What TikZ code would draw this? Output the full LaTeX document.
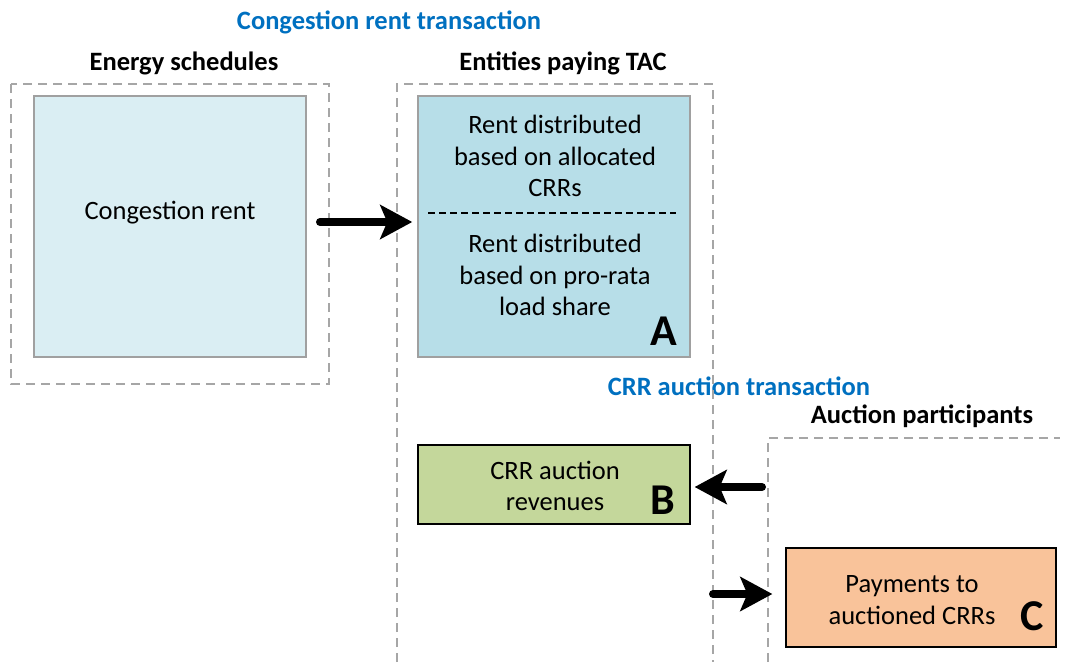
\documentclass[tikz,border=0pt]{standalone}
\usepackage{fontspec}
\setmainfont{Carlito}
\usetikzlibrary{arrows.meta}
\definecolor{dashgray}{HTML}{A6A6A6}
\definecolor{boxgray}{HTML}{A0A0A0}
\definecolor{lightblue}{HTML}{DAEEF3}
\definecolor{midblue}{HTML}{B7DEE8}
\definecolor{lightgreen}{HTML}{C4D79B}
\definecolor{peach}{HTML}{F9C39A}
\definecolor{titleblue}{HTML}{0070C0}
\tikzset{
  region/.style={draw=dashgray, line width=1.5pt, dash pattern=on 9pt off 6pt},
  bigbox/.style={draw=boxgray, line width=1.5pt, inner sep=0pt, minimum width=272pt, minimum height=261pt},
  smallbox/.style={draw=black, line width=1.3pt, inner sep=0pt},
  txt/.style={font=\fontsize{26.5}{31.5}\selectfont, align=center, inner sep=0pt},
  hdr/.style={font=\fontsize{26.5}{31.5}\selectfont\bfseries, inner sep=0pt},
  ttl/.style={font=\fontsize{26.5}{31.5}\selectfont\bfseries, text=titleblue, inner sep=0pt},
  letter/.style={font=\fontsize{44}{44}\selectfont\bfseries, inner sep=0pt},
  flow/.style={line width=8pt, line cap=round, -{Stealth[length=32pt,width=34pt,inset=7pt]}}
}
\begin{document}
\begin{tikzpicture}[x=1pt,y=-1pt]
\useasboundingbox (0,0) rectangle (1065,662);
% titles
\node[ttl] (t1) at (389,22) {Congestion rent transaction};
\node[hdr] (h1) at (184,63) {Energy schedules};
\node[hdr] (h2) at (563,63) {Entities paying TAC};
\node[ttl] (t2) at (739,386) {CRR auction transaction};
\node[hdr] (h3) at (922,416) {Auction participants};
% dashed regions
\draw[region] (11,84) rectangle (329,384);
\draw[region] (397,662) -- (397,84) -- (713,84) -- (713,662);
\draw[region] (768,662) -- (768,438) -- (1060,438);
% boxes
\node[bigbox, fill=lightblue] (cr) at (170,226.5) {};
\node[txt] (crt) at (170,213) {Congestion rent};
\node[bigbox, fill=midblue] (a) at (554,226.5) {};
\node[txt] (a1) at (555,156) {Rent distributed\\based on allocated\\CRRs};
\node[txt] (a2) at (555,275) {Rent distributed\\based on pro-rata\\load share};
\draw[line width=1.3pt, dash pattern=on 7pt off 4pt] (428,213) -- (676,213);
\node[letter] (la) at (664,331) {A};
\node[smallbox, fill=lightgreen, minimum width=272pt, minimum height=79pt] (b) at (554,484.5) {};
\node[txt] (bt) at (555,486) {CRR auction\\revenues};
\node[letter] (lb) at (663,500) {B};
\node[smallbox, fill=peach, minimum width=270pt, minimum height=99pt] (c) at (921,597.5) {};
\node[txt] (ct) at (912,600) {Payments to\\auctioned CRRs};
\node[letter] (lc) at (1032,616) {C};
% arrows
\coordinate (s1) at (320,222);
\coordinate (s2) at (762,487);
\coordinate (s3) at (713,594);
\draw[flow, shorten >=5pt] (s1) -- (a.west |- s1);
\draw[flow, shorten >=4pt] (s2) -- (b.east |- s2);
\draw[flow, shorten >=13pt] (s3) -- (c.west |- s3);
\end{tikzpicture}
\end{document}
